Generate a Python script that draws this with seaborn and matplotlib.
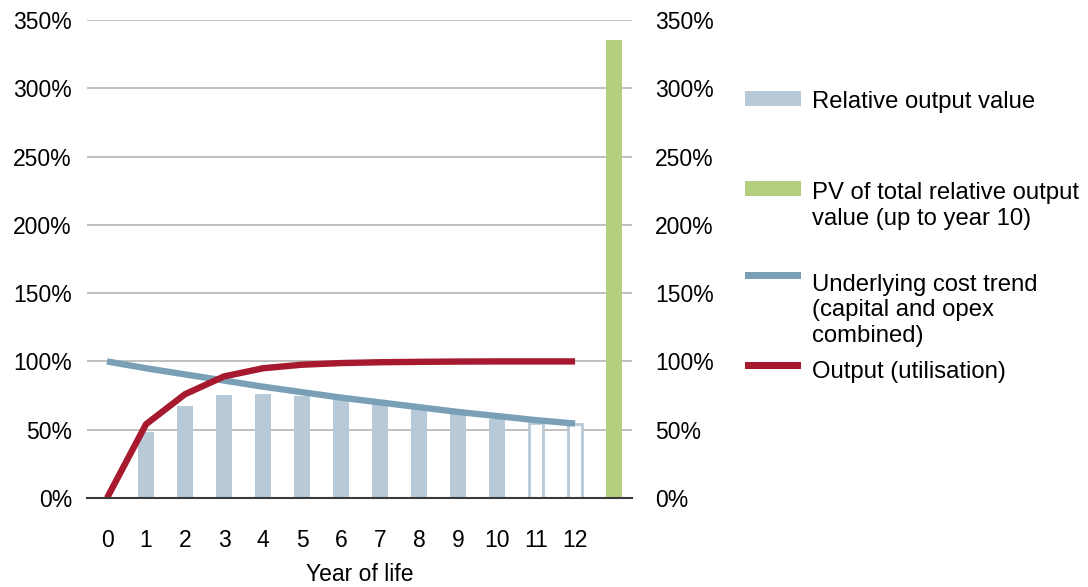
import matplotlib
matplotlib.use("Agg")
import matplotlib.pyplot as plt
import matplotlib.patches as mpatches
from matplotlib.ticker import FuncFormatter
import pandas as pd
import seaborn as sns

# Data (values in %)
years = list(range(13))
tick_labels = [str(y) for y in years]
output_util = [0, 54, 76, 89, 95, 97.6, 98.8, 99.4, 99.7, 99.9, 100, 100, 100]
cost_trend = [100, 95, 90.5, 86, 81.5, 77.5, 73.5, 70, 66.5, 63, 60, 57, 54.5]
bar_years = [1, 2, 3, 4, 5, 6, 7, 8, 9, 10]
rel_output = [48, 67.5, 75.5, 76.5, 75, 72.5, 69.5, 66, 62.5, 58]
proj_years = [11, 12]
proj_output = [55, 54.5]
pv_position = [13]
pv_total = [335]

legend_labels = [
    "Relative output value",
    "PV of total relative output\nvalue (up to year 10)",
    "Underlying cost trend\n(capital and opex\ncombined)",
    "Output (utilisation)",
]

c_bar = "#b8cad8"
c_green = "#b3cf7f"
c_blue = "#7aa0b8"
c_red = "#a6192e"

sns.set_style("white")
plt.rcParams["font.family"] = ["Liberation Sans", "DejaVu Sans"]
plt.rcParams["text.color"] = "black"
plt.rcParams["axes.labelcolor"] = "black"
plt.rcParams["xtick.color"] = "black"
plt.rcParams["ytick.color"] = "black"

W, H = 1088, 587
fig = plt.figure(figsize=(W / 100, H / 100), dpi=100)
ax = fig.add_axes([87 / W, 89 / H, 545 / W, 478 / H])

df_bars = pd.DataFrame({"year": bar_years, "value": rel_output})
df_proj = pd.DataFrame({"year": proj_years, "value": proj_output})
df_pv = pd.DataFrame({"year": pv_position, "value": pv_total})

sns.barplot(data=df_bars, x="year", y="value", native_scale=True, width=0.41,
            color=c_bar, saturation=1, errorbar=None, linewidth=0, ax=ax, zorder=2)
sns.barplot(data=df_proj, x="year", y="value", native_scale=True, width=0.38,
            color="white", edgecolor=c_bar, linewidth=2, saturation=1,
            errorbar=None, ax=ax, zorder=2)
sns.barplot(data=df_pv, x="year", y="value", native_scale=True, width=0.41,
            color=c_green, saturation=1, errorbar=None, linewidth=0, ax=ax, zorder=2)

sns.lineplot(x=years, y=cost_trend, color=c_blue, ax=ax, zorder=3)
sns.lineplot(x=years, y=output_util, color=c_red, ax=ax, zorder=4)
for ln in ax.lines:
    ln.set_linewidth(4.6)
    ln.set_solid_capstyle("butt")
    ln.set_solid_joinstyle("round")

pct = FuncFormatter(lambda v, p: f"{v:.0f}%")
ax.set_xlim(-0.513, 13.46)
ax.set_ylim(0, 350)
ax.set_xticks(years)
ax.set_xticklabels(tick_labels)
ax.set_yticks(range(0, 351, 50))
ax.yaxis.set_major_formatter(pct)
ax.yaxis.grid(True, color="#c0c0c0", lw=1.4)
ax.set_axisbelow(True)
for s in ["top", "left", "right"]:
    ax.spines[s].set_visible(False)
ax.spines["bottom"].set_color("#3a3a3a")
ax.spines["bottom"].set_linewidth(1.5)
ax.spines["bottom"].set_zorder(5)
ax.tick_params(axis="both", length=0, labelsize=16.5, colors="black")
ax.tick_params(axis="x", pad=22)
ax.tick_params(axis="y", pad=10.8)
ax.set_ylabel("")
ax.set_xlabel("Year of life", fontsize=16.5, labelpad=8)

ax2 = ax.twinx()
ax2.set_ylim(0, 350)
ax2.set_yticks(range(0, 351, 50))
ax2.yaxis.set_major_formatter(pct)
for s in ax2.spines.values():
    s.set_visible(False)
ax2.tick_params(axis="y", length=0, labelsize=16.5, pad=16.5, colors="black")

# legend drawn by hand on the right
def fx(x):
    return x / W

def fy(y):
    return 1 - y / H

swatches = [(91, 105.7, c_bar), (181, 196, c_green), (271.7, 279, c_blue), (362, 369, c_red)]
baselines = [108.3, 197.7, 287.7, 378]
step = 27
for (y0, y1, col), base, lab in zip(swatches, baselines, legend_labels):
    fig.patches.append(mpatches.Rectangle((fx(745), fy(y1)), fx(801) - fx(745), (y1 - y0) / H,
                                          transform=fig.transFigure, color=col, lw=0))
    n = lab.count("\n")
    fig.text(fx(812), fy(base + n * step), lab, fontsize=17.2, va="baseline", ha="left",
             linespacing=1.2, color="black")

fig.savefig("out.png", dpi=100)
